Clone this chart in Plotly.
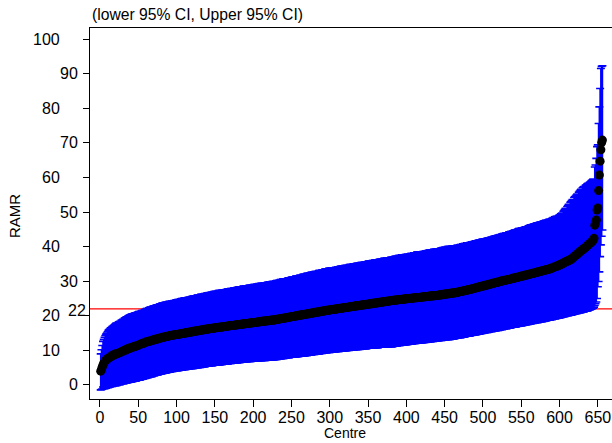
import plotly.graph_objects as go

# ---------------- data ----------------
ramr = [
 4.0,4.5,5.2,5.8,6.3,6.7,7.0,7.2,7.4,7.6,7.8,7.9,8.0,8.2,8.3,8.5,8.6,8.7,8.8,8.9,
 9.0,9.0,9.1,9.2,9.3,9.4,9.5,9.6,9.7,9.8,9.9,10.0,10.1,10.2,10.3,10.4,10.5,10.6,10.7,10.7,
 10.8,10.9,11.0,11.0,11.1,11.2,11.3,11.3,11.4,11.5,11.6,11.7,11.8,11.9,12.0,12.0,12.1,12.2,12.3,12.4,
 12.5,12.5,12.6,12.6,12.7,12.8,12.8,12.9,13.0,13.0,13.1,13.2,13.2,13.3,13.3,13.4,13.5,13.5,13.6,13.6,
 13.7,13.8,13.8,13.9,13.9,14.0,14.0,14.1,14.1,14.2,14.2,14.3,14.3,14.4,14.4,14.4,14.5,14.5,14.6,14.6,
 14.6,14.7,14.7,14.7,14.8,14.8,14.9,14.9,14.9,15.0,15.0,15.1,15.1,15.1,15.2,15.2,15.3,15.3,15.3,15.4,
 15.4,15.5,15.5,15.5,15.6,15.6,15.7,15.7,15.7,15.8,15.8,15.9,15.9,15.9,16.0,16.0,16.1,16.1,16.1,16.2,
 16.2,16.2,16.3,16.3,16.3,16.4,16.4,16.4,16.5,16.5,16.5,16.6,16.6,16.6,16.7,16.7,16.7,16.8,16.8,16.8,
 16.8,16.9,16.9,16.9,17.0,17.0,17.0,17.1,17.1,17.1,17.2,17.2,17.2,17.2,17.3,17.3,17.3,17.4,17.4,17.4,
 17.5,17.5,17.5,17.5,17.6,17.6,17.6,17.7,17.7,17.7,17.8,17.8,17.8,17.8,17.9,17.9,17.9,18.0,18.0,18.0,
 18.1,18.1,18.1,18.1,18.2,18.2,18.2,18.3,18.3,18.3,18.4,18.4,18.4,18.4,18.5,18.5,18.5,18.6,18.6,18.6,
 18.6,18.7,18.7,18.7,18.8,18.8,18.8,18.8,18.9,18.9,19.0,19.0,19.0,19.1,19.1,19.2,19.2,19.2,19.3,19.3,
 19.4,19.4,19.4,19.5,19.5,19.6,19.6,19.6,19.7,19.7,19.8,19.8,19.8,19.9,19.9,20.0,20.0,20.0,20.1,20.1,
 20.2,20.2,20.2,20.3,20.3,20.4,20.4,20.4,20.5,20.5,20.6,20.6,20.6,20.7,20.7,20.8,20.8,20.8,20.9,20.9,
 21.0,21.0,21.0,21.1,21.1,21.2,21.2,21.2,21.3,21.3,21.4,21.4,21.4,21.5,21.5,21.6,21.6,21.6,21.7,21.7,
 21.7,21.8,21.8,21.8,21.9,21.9,21.9,22.0,22.0,22.0,22.1,22.1,22.1,22.2,22.2,22.2,22.3,22.3,22.3,22.4,
 22.4,22.4,22.5,22.5,22.5,22.6,22.6,22.6,22.7,22.7,22.7,22.8,22.8,22.8,22.9,22.9,22.9,23.0,23.0,23.0,
 23.1,23.1,23.1,23.2,23.2,23.2,23.3,23.3,23.3,23.4,23.4,23.4,23.5,23.5,23.5,23.6,23.6,23.6,23.7,23.7,
 23.7,23.8,23.8,23.8,23.9,23.9,23.9,24.0,24.0,24.0,24.1,24.1,24.1,24.2,24.2,24.2,24.3,24.3,24.3,24.4,
 24.4,24.4,24.5,24.5,24.5,24.6,24.6,24.6,24.6,24.7,24.7,24.7,24.7,24.8,24.8,24.8,24.8,24.9,24.9,24.9,
 24.9,25.0,25.0,25.0,25.0,25.1,25.1,25.1,25.1,25.2,25.2,25.2,25.2,25.3,25.3,25.3,25.3,25.4,25.4,25.4,
 25.4,25.5,25.5,25.5,25.5,25.6,25.6,25.6,25.6,25.7,25.7,25.7,25.7,25.8,25.8,25.8,25.8,25.9,25.9,25.9,
 25.9,26.0,26.0,26.0,26.1,26.1,26.1,26.2,26.2,26.2,26.3,26.3,26.3,26.4,26.4,26.4,26.5,26.5,26.5,26.6,
 26.6,26.6,26.7,26.7,26.7,26.8,26.8,26.9,26.9,27.0,27.0,27.1,27.1,27.2,27.2,27.3,27.3,27.4,27.4,27.5,
 27.5,27.6,27.6,27.7,27.7,27.8,27.9,27.9,28.0,28.0,28.1,28.2,28.2,28.3,28.3,28.4,28.5,28.5,28.6,28.6,
 28.7,28.7,28.8,28.8,28.9,29.0,29.0,29.1,29.1,29.2,29.3,29.3,29.4,29.4,29.5,29.6,29.6,29.7,29.7,29.8,
 29.8,29.9,30.0,30.0,30.1,30.1,30.2,30.2,30.3,30.3,30.4,30.4,30.5,30.5,30.6,30.6,30.7,30.8,30.8,30.9,
 30.9,31.0,31.0,31.1,31.1,31.2,31.3,31.3,31.4,31.4,31.5,31.5,31.6,31.6,31.7,31.8,31.8,31.9,31.9,32.0,
 32.0,32.1,32.2,32.2,32.3,32.3,32.4,32.4,32.5,32.6,32.6,32.7,32.7,32.8,32.8,32.9,33.0,33.0,33.1,33.1,
 33.2,33.3,33.3,33.4,33.4,33.5,33.6,33.6,33.7,33.8,33.9,34.0,34.1,34.2,34.3,34.3,34.4,34.5,34.6,34.7,
 34.8,34.9,35.0,35.1,35.2,35.4,35.5,35.6,35.7,35.8,35.9,36.0,36.1,36.2,36.3,36.5,36.7,36.9,37.1,37.3,
 37.5,37.6,37.8,38.0,38.2,38.4,38.6,38.8,38.9,39.1,39.3,39.5,39.6,39.8,40.0,40.2,40.4,40.6,40.8,41.0,
 41.2,41.4,41.6,41.9,42.4,46.2,46.8,47.7,50.6,51.2,56.2,60.7,64.7,68.0,70.1,70.8,
]

upper_ci = [
 9.0,10.2,11.4,12.6,13.2,13.8,14.3,14.7,15.0,15.4,15.8,16.0,16.2,16.5,16.6,16.9,17.0,17.2,17.4,17.6,
 17.8,17.9,17.6,18.1,18.3,18.4,18.2,18.7,18.8,19.0,18.8,19.3,19.4,19.6,19.7,19.4,20.0,20.1,20.2,20.3,
 20.4,20.5,20.6,20.2,20.7,20.8,20.9,20.5,21.0,21.1,21.2,21.2,21.0,21.4,21.5,21.5,21.2,21.7,21.8,21.9,
 22.1,22.1,21.8,22.3,22.4,22.5,22.5,22.2,22.7,22.8,22.9,22.7,23.0,23.1,23.1,23.2,23.0,23.4,23.5,23.5,
 23.6,23.7,23.7,23.4,23.8,23.9,23.9,24.0,23.7,24.1,24.1,24.2,23.9,24.3,24.3,24.3,24.4,24.1,24.5,24.6,
 24.6,24.7,24.7,24.4,24.8,24.9,25.0,25.0,24.7,25.1,25.1,25.2,25.2,24.9,25.3,25.3,25.4,25.1,25.4,25.6,
 25.6,25.7,25.7,25.4,25.8,25.8,25.9,26.0,25.7,26.1,26.1,26.2,26.2,25.9,26.3,26.3,26.4,26.1,26.4,26.6,
 26.6,26.6,26.7,26.4,26.7,26.8,26.9,26.6,27.0,27.0,27.0,27.1,26.8,27.1,27.3,27.3,27.3,27.1,27.4,27.4,
 27.4,27.5,27.5,27.2,27.6,27.6,27.7,27.8,27.5,27.8,27.9,27.9,27.6,27.9,28.0,28.1,28.1,27.9,28.2,28.2,
 28.3,28.3,28.3,28.0,28.4,28.4,28.5,28.6,28.3,28.6,28.7,28.7,28.4,28.7,28.8,28.8,28.8,28.6,28.9,28.9,
 29.0,29.0,29.0,28.7,29.1,29.2,29.2,29.3,29.0,29.3,29.4,29.4,29.1,29.4,29.5,29.5,29.5,29.4,29.7,29.7,
 29.7,29.8,29.8,29.5,29.9,29.9,29.9,29.9,29.8,30.1,30.2,30.2,29.9,30.3,30.3,30.5,30.5,30.2,30.6,30.6,
 30.7,30.7,30.7,30.5,30.8,31.0,31.0,31.0,30.8,31.1,31.2,31.2,30.9,31.3,31.3,31.5,31.5,31.2,31.6,31.6,
 31.7,31.7,31.7,31.6,31.9,32.0,32.0,32.0,31.9,32.2,32.3,32.3,32.0,32.4,32.4,32.6,32.6,32.3,32.7,32.7,
 32.8,32.8,32.8,32.6,32.9,33.1,33.1,33.1,32.9,33.2,33.3,33.3,33.0,33.5,33.5,33.6,33.6,33.3,33.7,33.7,
 33.7,33.8,33.8,33.5,33.9,33.9,33.9,34.0,33.7,34.0,34.2,34.2,33.9,34.3,34.3,34.3,34.4,34.1,34.4,34.5,
 34.5,34.5,34.6,34.3,34.6,34.8,34.8,34.8,34.6,34.9,34.9,35.0,34.7,35.0,35.1,35.2,35.2,35.0,35.3,35.3,
 35.4,35.4,35.4,35.2,35.5,35.5,35.6,35.6,35.3,35.7,35.8,35.8,35.6,35.9,35.9,36.0,36.0,35.7,36.1,36.1,
 36.1,36.2,36.2,35.9,36.3,36.3,36.3,36.4,36.1,36.4,36.6,36.6,36.3,36.7,36.7,36.7,36.8,36.5,36.8,36.9,
 36.9,36.9,37.0,36.7,37.1,37.2,37.2,37.2,37.0,37.4,37.4,37.4,37.2,37.6,37.6,37.6,37.6,37.4,37.7,37.7,
 37.7,37.8,37.8,37.5,37.9,38.0,38.0,38.0,37.8,38.2,38.2,38.2,38.0,38.4,38.4,38.4,38.4,38.2,38.5,38.5,
 38.5,38.6,38.6,38.4,38.7,38.8,38.8,38.9,38.6,39.0,39.0,39.0,38.7,39.1,39.1,39.2,39.2,39.0,39.3,39.3,
 39.3,39.4,39.4,39.2,39.5,39.6,39.6,39.7,39.4,39.8,39.8,39.8,39.6,40.0,40.0,40.0,40.0,39.8,40.1,40.1,
 40.1,40.2,40.2,39.9,40.2,40.3,40.4,40.4,40.2,40.5,40.6,40.6,40.4,40.8,40.8,40.9,40.9,40.7,41.1,41.1,
 41.1,41.1,41.2,41.0,41.3,41.4,41.4,41.5,41.3,41.6,41.7,41.7,41.5,41.8,41.8,41.9,41.9,41.7,42.1,42.1,
 42.1,42.2,42.2,42.0,42.3,42.4,42.5,42.5,42.3,42.6,42.7,42.8,42.5,42.9,43.0,43.0,43.1,42.8,43.2,43.3,
 43.3,43.4,43.5,43.2,43.6,43.7,43.8,43.8,43.6,43.9,44.0,44.0,43.8,44.2,44.3,44.3,44.4,44.2,44.5,44.6,
 44.7,44.8,44.8,44.6,44.9,45.1,45.2,45.2,45.0,45.3,45.4,45.4,45.2,45.5,45.6,45.7,45.7,45.5,45.9,46.0,
 46.1,46.2,46.3,46.0,46.4,46.4,46.6,46.6,46.4,46.8,46.8,46.9,46.6,47.0,47.0,47.1,47.2,46.9,47.4,47.4,
 47.5,47.6,47.6,47.4,47.7,47.8,47.9,47.9,47.7,48.1,48.2,48.4,48.2,48.6,48.7,48.7,48.8,48.6,49.0,49.1,
 49.3,49.5,49.7,49.4,50.2,50.5,50.8,51.1,50.8,51.6,51.9,52.2,52.0,52.8,53.0,53.3,53.6,53.3,54.2,54.4,
 54.6,54.9,55.2,54.9,55.7,56.0,56.3,56.6,56.4,57.0,57.2,57.4,57.3,57.7,57.9,58.1,58.3,58.0,58.5,58.7,
 58.9,59.1,59.3,59.5,59.2,63.0,63.6,65.5,68.9,69.4,75.6,80.4,85.7,91.5,92.1,92.3,
]

lower_ci = [
 -1.4,-1.3,-1.2,-0.6,-1.1,-1.0,-1.0,-0.9,-0.3,-0.8,-0.7,-0.6,-0.6,0.0,-0.4,-0.4,-0.3,0.1,-0.2,-0.2,
 -0.1,-0.1,0.0,0.4,0.1,0.1,0.2,0.3,0.7,0.4,0.4,0.5,0.9,0.6,0.6,0.7,0.7,1.1,0.8,0.9,
 0.9,1.0,1.0,1.5,1.1,1.2,1.2,1.3,1.7,1.4,1.4,1.4,1.9,1.6,1.7,1.7,1.8,2.3,1.9,2.0,
 2.1,2.1,2.2,2.7,2.3,2.4,2.4,2.5,3.0,2.6,2.7,2.8,3.2,2.9,2.9,3.0,3.1,3.5,3.2,3.2,
 3.3,3.3,3.4,3.8,3.5,3.5,3.6,3.6,4.0,3.7,3.8,3.8,4.2,3.9,3.9,4.0,4.0,4.4,4.1,4.1,
 4.1,4.2,4.2,4.6,4.3,4.3,4.3,4.4,4.7,4.4,4.5,4.5,4.8,4.6,4.6,4.6,4.7,5.0,4.7,4.8,
 4.8,4.8,4.9,5.2,4.9,5.0,5.0,5.0,5.4,5.1,5.1,5.2,5.5,5.2,5.3,5.3,5.3,5.7,5.4,5.4,
 5.5,5.5,5.5,5.9,5.6,5.6,5.6,5.7,6.0,5.7,5.7,5.8,6.1,5.8,5.8,5.9,5.9,6.2,5.9,6.0,
 6.0,6.0,6.0,6.4,6.1,6.1,6.1,6.2,6.5,6.2,6.2,6.3,6.6,6.3,6.3,6.4,6.4,6.7,6.4,6.5,
 6.5,6.5,6.5,6.8,6.6,6.6,6.6,6.6,6.9,6.7,6.7,6.7,7.0,6.8,6.8,6.8,6.8,7.1,6.9,6.9,
 6.9,6.9,6.9,7.2,7.0,7.0,7.0,7.0,7.3,7.0,7.1,7.1,7.4,7.1,7.1,7.1,7.2,7.5,7.2,7.2,
 7.2,7.2,7.2,7.6,7.3,7.3,7.3,7.3,7.7,7.4,7.4,7.5,7.8,7.5,7.6,7.6,7.6,8.0,7.7,7.7,
 7.8,7.8,7.8,8.2,7.9,7.9,7.9,8.0,8.3,8.0,8.0,8.1,8.4,8.1,8.1,8.2,8.2,8.5,8.2,8.3,
 8.3,8.3,8.3,8.7,8.4,8.4,8.5,8.5,8.8,8.5,8.6,8.6,8.9,8.7,8.7,8.7,8.8,9.1,8.8,8.8,
 8.9,8.9,8.9,9.3,9.0,9.0,9.1,9.1,9.4,9.1,9.2,9.2,9.5,9.3,9.3,9.3,9.4,9.7,9.4,9.4,
 9.5,9.5,9.5,9.8,9.6,9.6,9.6,9.6,10.0,9.7,9.7,9.7,10.0,9.8,9.8,9.8,9.8,10.2,9.9,9.9,
 9.9,10.0,10.0,10.3,10.0,10.1,10.1,10.1,10.4,10.1,10.2,10.2,10.5,10.2,10.3,10.3,10.3,10.6,10.3,10.4,
 10.4,10.4,10.4,10.8,10.5,10.5,10.5,10.5,10.9,10.6,10.6,10.6,10.9,10.7,10.7,10.7,10.7,11.0,10.8,10.8,
 10.8,10.8,10.8,11.1,10.9,10.9,10.9,10.9,11.2,11.0,11.0,11.0,11.3,11.0,11.0,11.1,11.1,11.4,11.1,11.1,
 11.1,11.1,11.2,11.5,11.2,11.2,11.3,11.3,11.6,11.4,11.4,11.4,11.8,11.5,11.5,11.5,11.6,11.9,11.6,11.7,
 11.7,11.7,11.8,12.1,11.8,11.8,11.9,11.9,12.2,12.0,12.0,12.0,12.3,12.1,12.1,12.1,12.1,12.5,12.2,12.2,
 12.2,12.3,12.3,12.6,12.3,12.4,12.4,12.4,12.8,12.5,12.5,12.5,12.9,12.6,12.6,12.7,12.7,13.0,12.7,12.8,
 12.8,12.8,12.9,13.2,12.9,12.9,13.0,13.0,13.3,13.0,13.1,13.1,13.4,13.1,13.2,13.2,13.2,13.5,13.3,13.3,
 13.3,13.4,13.4,13.8,13.5,13.5,13.6,13.6,14.0,13.7,13.7,13.8,14.1,13.9,13.9,13.9,14.0,14.3,14.1,14.1,
 14.1,14.2,14.2,14.6,14.3,14.4,14.4,14.4,14.8,14.5,14.6,14.6,15.0,14.7,14.7,14.8,14.8,15.2,14.9,15.0,
 15.0,15.1,15.1,15.5,15.2,15.2,15.3,15.3,15.7,15.4,15.5,15.5,15.8,15.6,15.6,15.7,15.7,16.0,15.8,15.8,
 15.9,15.9,16.0,16.3,16.0,16.1,16.1,16.2,16.5,16.3,16.3,16.4,16.7,16.4,16.5,16.5,16.6,16.9,16.7,16.7,
 16.7,16.8,16.8,17.2,16.9,17.0,17.0,17.1,17.4,17.1,17.2,17.2,17.6,17.3,17.4,17.4,17.4,17.8,17.5,17.6,
 17.6,17.7,17.7,18.1,17.8,17.9,17.9,17.9,18.3,18.0,18.1,18.1,18.5,18.2,18.3,18.3,18.3,18.7,18.4,18.5,
 18.5,18.6,18.6,19.0,18.7,18.8,18.8,18.8,19.2,18.9,19.0,19.0,19.4,19.1,19.2,19.2,19.3,19.6,19.4,19.4,
 19.5,19.5,19.6,20.0,19.7,19.8,19.8,19.9,20.2,20.0,20.0,20.1,20.4,20.2,20.2,20.3,20.3,20.7,20.5,20.6,
 20.6,20.7,20.7,21.1,20.8,20.9,20.9,21.0,21.3,21.1,21.1,21.2,21.5,21.3,21.4,21.4,21.5,21.8,21.7,21.8,
 21.9,22.0,22.1,22.2,22.5,23.0,23.5,24.0,25.0,28.4,29.9,32.7,37.1,40.5,43.0,44.8,
]

centre = list(range(1, len(ramr) + 1))
reference_ramr = 22
y_ticks = [0, 10, 20, 30, 40, 50, 60, 70, 80, 90, 100]
x_ticks = [0, 50, 100, 150, 200, 250, 300, 350, 400, 450, 500, 550, 600, 650]

# ---------------- layout helpers ----------------
W, H = 612, 443
L, R, T, B = 90, 0, 28, 44
PW, PH = W - L - R, H - T - B

def px(x):
    return (x - L) / PW

def py(y):
    return (H - B - y) / PH

FONT = "Liberation Sans, Arial, sans-serif"

err_plus = [u - v for u, v in zip(upper_ci, ramr)]
err_minus = [v - l for v, l in zip(ramr, lower_ci)]

fig = go.Figure()
fig.add_trace(go.Scatter(
    x=centre, y=ramr, mode="markers",
    marker=dict(color="black", size=9, line=dict(width=0)),
    error_y=dict(type="data", symmetric=False, array=err_plus, arrayminus=err_minus,
                 color="#0000FF", thickness=1.6, width=4),
    hoverinfo="skip", showlegend=False,
))

fig.add_shape(type="line", xref="paper", x0=0, x1=1, yref="y",
              y0=reference_ramr, y1=reference_ramr,
              line=dict(color="#FF0000", width=1.3), layer="below")

# y tick labels (staggered positions as in the original)
label_right = {100: 62, 90: 80, 80: 62, 70: 80, 60: 62, 50: 80, 40: 62,
               30: 80, 20: 62, 10: 62, 0: 80}
annotations = []
for v in y_ticks:
    annotations.append(dict(x=px(label_right[v]), xref="paper", y=v, yref="y",
                            text=str(v), showarrow=False, xanchor="right",
                            yanchor="middle", font=dict(size=16, color="black", family=FONT)))
annotations.append(dict(x=px(88), xref="paper", y=reference_ramr, yref="y",
                        text=str(reference_ramr), showarrow=False, xanchor="right",
                        yanchor="middle", yshift=-2,
                        font=dict(size=16, color="black", family=FONT)))
annotations.append(dict(x=px(90), xref="paper", y=py(15), yref="paper",
                        text="(lower 95% CI, Upper 95% CI)", showarrow=False,
                        xanchor="left", yanchor="middle",
                        font=dict(size=15.7, color="black", family=FONT)))
annotations.append(dict(x=px(345), xref="paper", y=py(433.5), yref="paper",
                        text="Centre", showarrow=False, xanchor="center",
                        yanchor="middle", borderpad=0,
                        font=dict(size=14, color="black", family=FONT)))
annotations.append(dict(x=px(15), xref="paper", y=py(216), yref="paper",
                        text="RAMR", showarrow=False, textangle=-90,
                        xanchor="center", yanchor="middle",
                        font=dict(size=15, color="black", family=FONT)))

fig.update_layout(
    width=W, height=H,
    margin=dict(l=L, r=R, t=T, b=B, pad=0),
    paper_bgcolor="white", plot_bgcolor="white",
    font=dict(family=FONT, size=16, color="black"),
    hovermode=False,
    annotations=annotations,
    xaxis=dict(range=[-13, 668.5], tickvals=x_ticks, ticks="outside", ticklen=7,
               tickcolor="black", showgrid=False, zeroline=False,
               showline=True, linecolor="black", linewidth=1, mirror=True,
               ticklabelstandoff=-3,
               tickfont=dict(size=16, color="black", family=FONT)),
    yaxis=dict(range=[-4.05, 103.2], tickvals=y_ticks, ticks="outside", ticklen=6,
               tickcolor="black", showticklabels=False, showgrid=False, zeroline=False,
               showline=True, linecolor="black", linewidth=1, mirror=False),
)

fig.write_html("out.html")
